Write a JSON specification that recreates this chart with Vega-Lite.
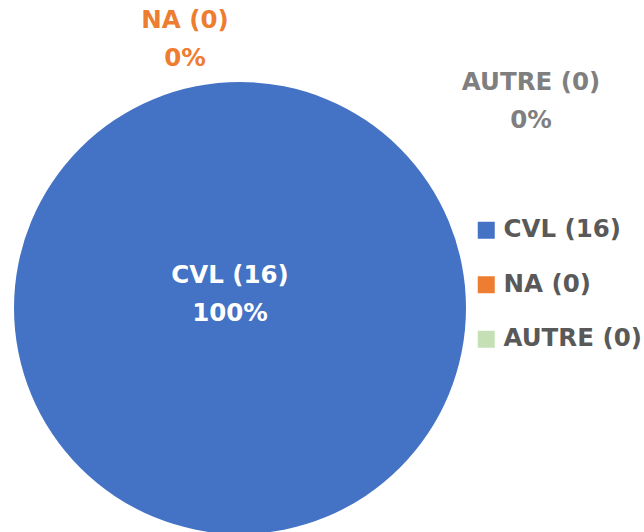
{
  "$schema": "https://vega.github.io/schema/vega-lite/v6.json",
  "autosize": {"type": "none"},
  "padding": {"left": 14, "top": 82, "right": 178, "bottom": 0},
  "width": 452,
  "height": 452,
  "background": "white",
  "config": {"view": {"stroke": null}, "font": "DejaVu Sans"},
  "data": {
    "values": [
      {"cat": "CVL", "legend": "CVL (16)", "value": 16, "ord": 1, "label": "CVL (16)\n100%"},
      {"cat": "NA", "legend": "NA (0)", "value": 0, "ord": 2, "label": "NA (0)\n0%"},
      {"cat": "AUTRE", "legend": "AUTRE (0)", "value": 0, "ord": 3, "label": "AUTRE (0)\n0%"}
    ]
  },
  "encoding": {
    "theta": {"field": "value", "type": "quantitative", "stack": true},
    "order": {"field": "ord", "type": "quantitative"}
  },
  "layer": [
    {
      "mark": {"type": "arc", "outerRadius": 226},
      "encoding": {
        "color": {
          "field": "legend",
          "type": "nominal",
          "sort": ["CVL (16)", "NA (0)", "AUTRE (0)"],
          "scale": {"domain": ["CVL (16)", "NA (0)", "AUTRE (0)"], "range": ["#4472C4", "#ED7D31", "#C5E0B4"]},
          "legend": {
            "title": null,
            "orient": "none",
            "legendX": 460,
            "legendY": 136,
            "symbolType": "square",
            "symbolSize": 289,
            "symbolStrokeWidth": 0,
            "labelFont": "DejaVu Sans",
            "labelFontSize": 24.5,
            "labelFontWeight": "bold",
            "labelColor": "#595959",
            "labelOffset": 5,
            "rowPadding": 29.5,
            "labelLimit": 300
          }
        }
      }
    },
    {
      "transform": [{"filter": "datum.cat === 'CVL'"}],
      "mark": {"type": "text", "radius": 0, "dx": -10, "dy": -32, "align": "center", "baseline": "middle", "lineBreak": "\n", "lineHeight": 38, "font": "DejaVu Sans", "fontSize": 24.5, "fontWeight": "bold", "color": "white"},
      "encoding": {"text": {"field": "label"}}
    },
    {
      "transform": [{"filter": "datum.cat === 'NA'"}],
      "mark": {"type": "text", "radius": 268, "dx": -55, "dy": -19, "align": "center", "baseline": "middle", "lineBreak": "\n", "lineHeight": 38, "font": "DejaVu Sans", "fontSize": 24.5, "fontWeight": "bold", "color": "#ED7D31"},
      "encoding": {"text": {"field": "label"}}
    },
    {
      "transform": [{"filter": "datum.cat === 'AUTRE'"}],
      "mark": {"type": "text", "radius": 207, "dx": 291, "dy": -18, "align": "center", "baseline": "middle", "lineBreak": "\n", "lineHeight": 38, "font": "DejaVu Sans", "fontSize": 24.5, "fontWeight": "bold", "color": "#7F7F7F"},
      "encoding": {"text": {"field": "label"}}
    }
  ]
}
